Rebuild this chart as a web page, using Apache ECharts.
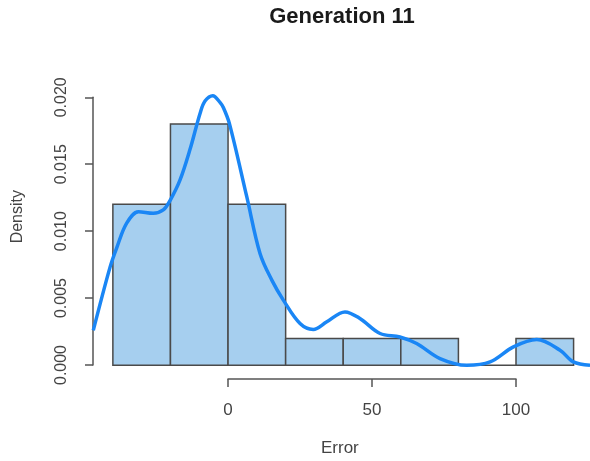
<!DOCTYPE html>
<html>
<head>
<meta charset="utf-8">
<script src="https://cdn.jsdelivr.net/npm/echarts@6/dist/echarts.min.js"></script>
<style>
  html, body { margin: 0; padding: 0; background: #fff; }
  #chart { width: 590px; height: 461px; }
</style>
</head>
<body>
<div id="chart"></div>
<script>
// Histogram bins (width 20) of the error values and their densities
const binStarts = [-40, -20, 0, 20, 40, 60, 80, 100];
const binEnds   = [-20, 0, 20, 40, 60, 80, 100, 120];
const binDensity = [0.012, 0.018, 0.012, 0.002, 0.002, 0.002, 0.000, 0.002];

// Kernel density estimate, sampled along the error axis
const kdeX = [-46.8, -41, -38.6, -35.2, -31.1, -26, -22.5, -20.1, -16.7, -13.2, -9.7, -8, -5.3, -2.8, -1.6,
              0.5, 6.5, 11.1, 15.2, 19.2, 25, 29.6, 34.3, 40.6, 45.8, 52.8, 59.7, 65.5, 73.6,
              82.9, 91, 99.1, 107.2, 115.3, 119.9, 125.7];
const kdeY = [0.0026, 0.0073, 0.0088, 0.0106, 0.01145, 0.01133, 0.01158, 0.0123, 0.0138, 0.0161, 0.0188, 0.0197, 0.0201, 0.0196, 0.0192,
              0.0180, 0.01257, 0.00834, 0.00635, 0.00486, 0.00311, 0.00267, 0.00324, 0.00398, 0.00349, 0.00237, 0.00211, 0.00162, 0.0005,
              0.0000, 0.00025, 0.00137, 0.00192, 0.00112, 0.00025, 0.0000];

// Tick labels
const xTicks = [0, 50, 100];
const yTicks = [0, 0.005, 0.010, 0.015, 0.020];

const axisColor = '#555';
const textColor = '#444';
const fontFamily = 'Liberation Sans, Arial, sans-serif';

const histData = binStarts.map((s, i) => [s, binEnds[i], binDensity[i]]);
const kdeData = kdeX.map((x, i) => [x, kdeY[i]]);

const chart = echarts.init(document.getElementById('chart'));
chart.setOption({
  animation: false,
  backgroundColor: '#fff',
  graphic: [
    { type: 'text', x: 342, y: 6,
      style: { text: 'Generation 11', fontFamily, fontSize: 22, fontWeight: 'bold', fill: '#1a1a1a',
        align: 'center', verticalAlign: 'top' } },
    { type: 'text', left: 10, top: 190, rotation: Math.PI / 2,
      style: { text: 'Density', fontFamily, fontSize: 16, fill: textColor } },
    { type: 'text', left: 321, top: 440,
      style: { text: 'Error', fontFamily, fontSize: 17, fill: textColor } }
  ],
  grid: [
    // plotting region
    { left: 93, top: 85, width: 497, height: 291 },
    // x axis (drawn from first to last tick)
    { left: 228, top: 85, width: 288, height: 294 },
    // y axis (drawn from first to last tick)
    { left: 93, top: 97.3, width: 100, height: 267.7 }
  ],
  xAxis: [
    { gridIndex: 0, type: 'value', min: -46.9, max: 125.7, show: false },
    { gridIndex: 1, type: 'value', min: xTicks[0], max: xTicks[xTicks.length - 1], interval: 50,
      axisLine: { show: true, lineStyle: { color: axisColor, width: 1.5 } },
      axisTick: { show: true, length: 8, lineStyle: { color: axisColor, width: 1.5 } },
      axisLabel: { margin: 23, fontFamily, fontSize: 17, color: textColor,
        formatter: v => xTicks.includes(v) ? String(v) : '' },
      splitLine: { show: false } },
    { gridIndex: 2, type: 'value', show: false }
  ],
  yAxis: [
    { gridIndex: 0, type: 'value', min: -0.0008, max: 0.0209, show: false },
    { gridIndex: 1, type: 'value', show: false },
    { gridIndex: 2, type: 'value', min: yTicks[0], max: yTicks[yTicks.length - 1], interval: 0.005,
      axisLine: { show: true, lineStyle: { color: axisColor, width: 1.5 } },
      axisTick: { show: true, length: 8, lineStyle: { color: axisColor, width: 1.5 } },
      axisLabel: { rotate: 90, margin: 23, fontFamily, fontSize: 16, color: textColor,
        formatter: v => v.toFixed(3) },
      splitLine: { show: false } }
  ],
  series: [
    {
      type: 'custom',
      xAxisIndex: 0, yAxisIndex: 0,
      data: histData,
      encode: { x: [0, 1], y: 2 },
      renderItem: (params, api) => {
        const p0 = api.coord([api.value(0), api.value(2)]);
        const p1 = api.coord([api.value(1), 0]);
        return {
          type: 'rect',
          shape: { x: p0[0], y: p0[1], width: p1[0] - p0[0], height: p1[1] - p0[1] },
          style: { fill: '#a6cfef', stroke: '#4a4a4a', lineWidth: 1.5 }
        };
      }
    },
    {
      type: 'line',
      xAxisIndex: 0, yAxisIndex: 0,
      data: kdeData,
      smooth: 0.35,
      symbol: 'none',
      lineStyle: { color: '#1a86f5', width: 3.5 },
      z: 5
    }
  ]
});
</script>
</body>
</html>
